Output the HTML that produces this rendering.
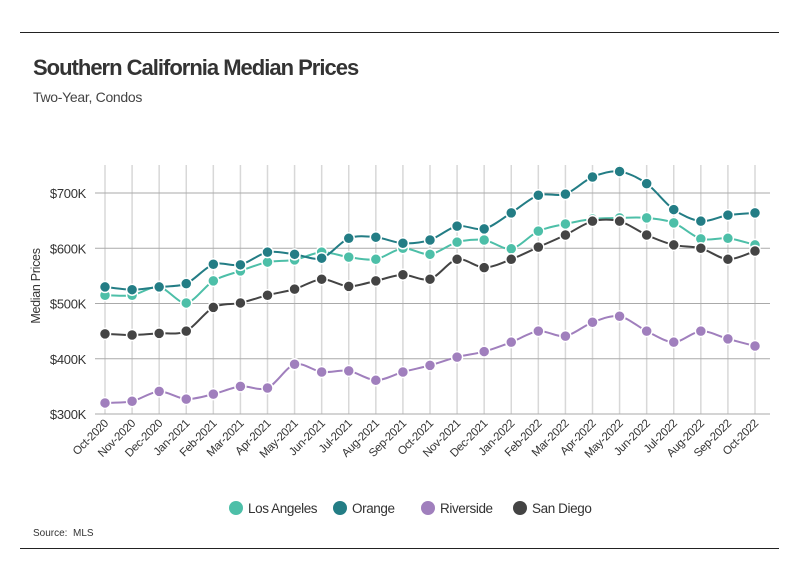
<!DOCTYPE html>
<html><head><meta charset="utf-8"><style>
body{margin:0;background:#fff;font-family:"Liberation Sans",sans-serif;}
#wrap{position:relative;width:799px;height:575px;overflow:hidden;}
.rule{position:absolute;left:20px;width:759px;height:1px;background:#222;}
</style></head><body>
<div id="wrap">
<div class="rule" style="top:32px"></div>
<div style="position:absolute;left:33px;top:55px;font-size:22px;font-weight:bold;color:#333;letter-spacing:-1px">Southern California Median Prices</div>
<div style="position:absolute;left:33px;top:89px;font-size:14px;color:#444;letter-spacing:-0.3px">Two-Year, Condos</div>
<svg id="chart" width="799" height="575" style="position:absolute;left:0;top:0"></svg>
<div style="position:absolute;left:33px;top:528px;font-size:10px;color:#333">Source:&nbsp; MLS</div>
<div class="rule" style="top:548px"></div>
</div>
<script>
const categories=["Oct-2020","Nov-2020","Dec-2020","Jan-2021","Feb-2021","Mar-2021","Apr-2021","May-2021","Jun-2021","Jul-2021","Aug-2021","Sep-2021","Oct-2021","Nov-2021","Dec-2021","Jan-2022","Feb-2022","Mar-2022","Apr-2022","May-2022","Jun-2022","Jul-2022","Aug-2022","Sep-2022","Oct-2022"];
const losAngeles=[515,515,530,501,541,559,575,579,593,584,580,600,589,611,615,599,631,644,653,655,655,646,617,618,606];
const orange=[530,525,530,536,571,570,593,589,582,618,620,609,615,640,635,664,696,698,729,739,717,670,649,660,664];
const riverside=[320,323,341,327,336,350,347,390,376,378,361,376,388,403,413,430,450,441,466,477,450,430,450,436,423];
const sanDiego=[445,443,446,450,493,501,515,526,544,531,541,552,544,580,565,580,602,624,649,649,624,606,600,580,595];
const yTicks=[300,400,500,600,700];
const seriesNames=["Los Angeles","Orange","Riverside","San Diego"];
const seriesColors=["#4dbfa8","#237d85","#a07fbd","#444444"];
const seriesData=[losAngeles,orange,riverside,sanDiego];

const NS="http://www.w3.org/2000/svg";
const svg=document.getElementById('chart');
const x0=105,x1=755,y300=414,y700=193;
function xs(i){return x0+(x1-x0)*i/(categories.length-1);}
function ys(v){return y300+(v-300)*(y700-y300)/400;}
function mk(t,a){const e=document.createElementNS(NS,t);for(const k in a)e.setAttribute(k,a[k]);svg.appendChild(e);return e;}
categories.forEach((c,i)=>{
 const l=mk('line',{x1:xs(i),x2:xs(i),y1:165,y2:414,stroke:'#d8d8d8','stroke-width':1.5});
 
 
 const t=mk('text',{x:0,y:0,'font-size':11.5,fill:'#333','text-anchor':'end','letter-spacing':'-0.3',transform:`translate(${xs(i)+4},${424}) rotate(-45)`});
 t.textContent=c;
 
 
});
yTicks.forEach(v=>{
 const l=mk('line',{x1:95,x2:770,y1:ys(v),y2:ys(v),stroke:'#aaa','stroke-width':1});
 
 
 const t=mk('text',{x:86,y:ys(v)+5,'font-size':13,fill:'#333','text-anchor':'end','letter-spacing':'-0.3'});
 t.textContent='$'+v+'K';
 
 
});
const yt=mk('text',{x:0,y:0,'font-size':12.5,fill:'#333','text-anchor':'middle','letter-spacing':'-0.3',transform:'translate(40,286) rotate(-90)'});
yt.textContent='Median Prices';


function smooth(pts){
 let d=`M${pts[0][0]},${pts[0][1]}`;
 for(let i=0;i<pts.length-1;i++){
  const p0=pts[i-1]||pts[i],p1=pts[i],p2=pts[i+1],p3=pts[i+2]||p2,k=0.15;
  d+=` C${p1[0]+(p2[0]-p0[0])*k},${p1[1]+(p2[1]-p0[1])*k} ${p2[0]-(p3[0]-p1[0])*k},${p2[1]-(p3[1]-p1[1])*k} ${p2[0]},${p2[1]}`;
 }
 return d;
}
seriesData.forEach((data,s)=>{
 const pts=data.map((v,i)=>[xs(i),ys(v)]);
 const p=mk('path',{d:smooth(pts),fill:'none',stroke:seriesColors[s],'stroke-width':2});
 
 
 pts.forEach(pt=>{
  const c=mk('circle',{cx:pt[0],cy:pt[1],r:5.5,fill:seriesColors[s],stroke:'#fff','stroke-width':1.5});
  
  
 });
});
const legX=[236,340,428,520];
seriesNames.forEach((n,s)=>{
 const c=mk('circle',{cx:legX[s],cy:508,r:7,fill:seriesColors[s]});
 
 
 const t=mk('text',{x:legX[s]+12,y:513,'font-size':13.5,fill:'#333','letter-spacing':'-0.4'});
 t.textContent=n;
 
 
});
</script>
</body></html>
